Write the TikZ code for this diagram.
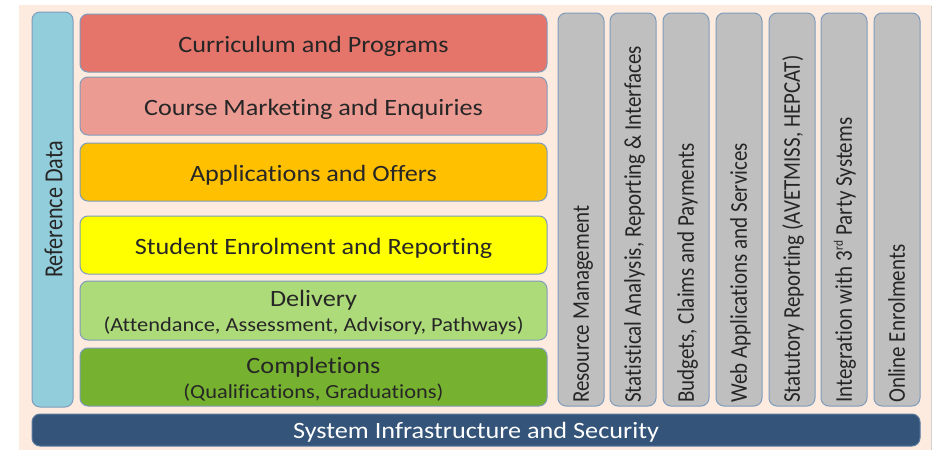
\documentclass[tikz,border=0pt]{standalone}
\usepackage{fontspec}
\setmainfont{Carlito}[FakeStretch=1.12, Ligatures=NoCommon]
\newfontfamily\vfont{Carlito}[FakeStretch=0.875, Ligatures=NoCommon]
\newfontfamily\rfont{Carlito}[FakeStretch=0.85, Ligatures=NoCommon]
\definecolor{bgcol}{HTML}{FCEBDE}
\definecolor{edgecol}{HTML}{7F9CBC}
\definecolor{txtcol}{HTML}{262626}
\definecolor{refcol}{HTML}{92CDDC}
\definecolor{currcol}{HTML}{E5756A}
\definecolor{markcol}{HTML}{EC9B93}
\definecolor{applcol}{HTML}{FFC000}
\definecolor{studcol}{HTML}{FFFF00}
\definecolor{delivcol}{HTML}{AEDB7A}
\definecolor{complcol}{HTML}{76B22F}
\definecolor{graycol}{HTML}{BFBFBF}
\definecolor{barcol}{HTML}{345479}
\definecolor{baredge}{HTML}{5B7BA0}
\begin{document}
\begin{tikzpicture}[x=1pt,y=-1pt,
  box/.style={draw=edgecol, line width=1pt, rounded corners=8pt, inner sep=0pt},
  rowbox/.style={box, minimum width=467pt, minimum height=58pt},
  colbox/.style={box, fill=graycol, minimum width=46pt, minimum height=393pt},
  hlbl/.style={anchor=base, inner sep=0pt, text=txtcol, font=\fontsize{23.4}{28}\selectfont},
  slbl/.style={anchor=base, inner sep=0pt, text=txtcol, font=\fontsize{20}{24}\selectfont},
  vlbl/.style={anchor=base west, rotate=90, inner sep=0pt, text=txtcol, font=\vfont\fontsize{24}{28}\selectfont}]
\useasboundingbox (0,0) rectangle (935,450);
\fill[white] (0,0) rectangle (935,450);
\fill[bgcol] (19,5) rectangle (931,450);
\draw[line width=1pt, draw=black!18] (931.5,6) -- (931.5,450);
% reference data
\node[box, fill=refcol, minimum width=41pt, minimum height=395pt] (ref) at (52.5,209.5) {};
\node[anchor=base, rotate=90, inner sep=0pt, text=txtcol, font=\rfont\fontsize{26}{30}\selectfont] (refT) at (62.3,209.5) {Reference Data};
% rows
\node[rowbox, fill=currcol] (curr) at (313.5,43) {};
\node[hlbl] (currT) at (313.5,52.3) {Curriculum and Programs};
\node[rowbox, fill=markcol] (mark) at (313.5,106) {};
\node[hlbl] (markT) at (313.5,115) {Course Marketing and Enquiries};
\node[rowbox, fill=applcol] (appl) at (313.5,172) {};
\node[hlbl] (applT) at (313.5,181) {Applications and Offers};
\node[rowbox, fill=studcol] (stud) at (313.5,245) {};
\node[hlbl] (studT) at (313.5,254) {Student Enrolment and Reporting};
\node[rowbox, fill=delivcol, minimum height=59pt] (deliv) at (313.5,310.5) {};
\node[hlbl] (delivT) at (313.5,306.7) {Delivery};
\node[slbl] (delivS) at (313.5,331.7) {(Attendance, Assessment, Advisory, Pathways)};
\node[rowbox, fill=complcol] (compl) at (313.5,377) {};
\node[hlbl] (complT) at (313.5,373) {Completions};
\node[slbl] (complS) at (313.5,398) {(Qualifications, Graduations)};
% columns
\foreach \i/\xl/\t in {1/558/{Resource Management},
                       2/610/{Statistical Analysis, Reporting \& Interfaces},
                       3/663/{Budgets, Claims and Payments},
                       4/716/{Web Applications and Services},
                       5/769/{Statutory Reporting (AVETMISS, HEPCAT)},
                       6/821/{Integration with 3\textsuperscript{\fontsize{13}{14}\selectfont rd} Party Systems},
                       7/874/{Online Enrolments}}{
  \node[colbox] (col\i) at (\xl+23,209.5) {};
  \node[vlbl] (col\i T) at (\xl+30.8,403) {\t};
}
% infrastructure bar
\node[box, draw=baredge, fill=barcol, minimum width=888pt, minimum height=32pt] (bar) at (476,430) {};
\node[hlbl, text=white] (barT) at (476,438) {System Infrastructure and Security};
\end{tikzpicture}
\end{document}
